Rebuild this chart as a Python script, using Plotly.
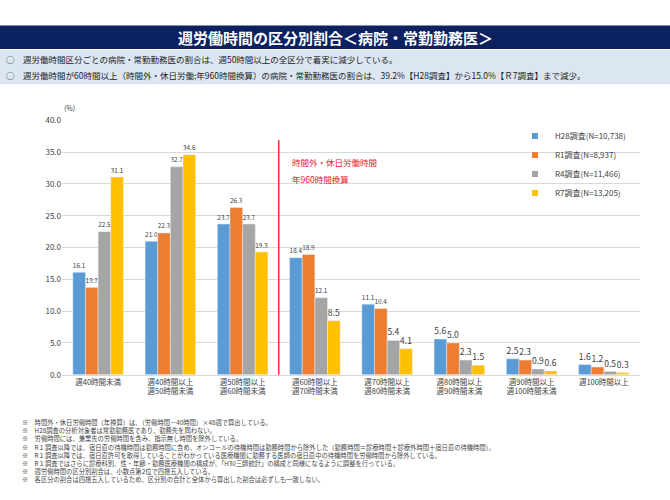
import plotly.graph_objects as go

categories = ["週40時間未満", "週40時間以上<br>週50時間未満", "週50時間以上<br>週60時間未満", "週60時間以上<br>週70時間未満",
              "週70時間以上<br>週80時間未満", "週80時間以上<br>週90時間未満", "週90時間以上<br>週100時間未満", "週100時間以上"]
series_names = ["H28調査(N=10,738)", "R1調査(N=8,937)", "R4調査(N=11,466)", "R7調査(N=13,205)"]
h28 = [16.1, 21.0, 23.7, 18.4, 11.1, 5.6, 2.5, 1.6]
r1 = [13.7, 22.3, 26.3, 18.9, 10.4, 5.0, 2.3, 1.2]
r4 = [22.5, 32.7, 23.7, 12.1, 5.4, 2.3, 0.9, 0.5]
r7 = [31.1, 34.6, 19.3, 8.5, 4.1, 1.5, 0.6, 0.3]
colors = ["#5B9BD5", "#ED7D31", "#A5A5A5", "#FFC000"]
footnotes = [
    "※　時間外・休日労働時間（年換算）は、（労働時間－40時間）×48週で算出している。",
    "※　H28調査の分析対象者は常勤勤務医であり、勤務先を問わない。",
    "※　労働時間には、兼業先の労働時間を含み、指示無し時間を除外している。",
    "※　R１調査以降では、宿日直の待機時間は勤務時間に含め、オンコールの待機時間は勤務時間から除外した（勤務時間＝診療時間＋診療外時間＋宿日直の待機時間）。",
    "※　R１調査以降では、宿日直許可を取得していることがわかっている医療機関に勤務する医師の宿日直中の待機時間を労働時間から除外している。",
    "※　R１調査ではさらに診療科別、性・年齢・勤務医療機関の構成が、「H30三師統計」の構成と同様になるように調整を行っている。",
    "※　週労働時間の区分別割合は、小数点第2位で四捨五入している。",
    "※　各区分の割合は四捨五入しているため、区分別の合計と全体から算出した割合は必ずしも一致しない。",
]

W, H = 670, 500
def py(y):
    return 1 - y / H
def px(x):
    return x / W

FONT = "Noto Sans CJK JP"
fig = go.Figure()
for name, vals, c in zip(series_names, [h28, r1, r4, r7], colors):
    fig.add_trace(go.Bar(x=categories, y=vals, name=name, marker_color=c, showlegend=False,
                         text=[f"{v:.1f}" for v in vals], textposition="outside",
                         textfont=dict(size=8.5, color="#404040"), cliponaxis=False))
for name, c in zip(series_names, colors):
    fig.add_trace(go.Scatter(x=[None], y=[None], mode="markers", name=name,
                             marker=dict(symbol="square", size=6, color=c)))

fig.update_layout(
    width=W, height=H, margin=dict(l=0, r=0, t=0, b=0),
    paper_bgcolor="white", plot_bgcolor="white",
    font=dict(family=FONT, color="#404040"),
    barmode="group", bargap=0.3, bargroupgap=0.0,
    xaxis=dict(domain=[px(62), px(640)], showline=True, linecolor="#D9D9D9", tickfont=dict(size=7.5)),
    yaxis=dict(domain=[py(377), py(117)], range=[0, 40], dtick=5, tickformat=".1f",
               gridcolor="#D9D9D9", tickfont=dict(size=8), zeroline=False),
    legend=dict(x=px(515), y=py(118), xanchor="left", yanchor="top", font=dict(size=8),
                bgcolor="rgba(255,255,255,0)", itemwidth=30, tracegroupgap=6),
    showlegend=True,
)
fig.add_shape(type="rect", xref="paper", yref="paper", x0=0, x1=1, y0=py(44), y1=py(20),
              fillcolor="#0B2160", line_width=0, layer="below")
fig.add_shape(type="rect", xref="paper", yref="paper", x0=0, x1=1, y0=py(80), y1=py(45),
              fillcolor="#DCE6F2", line_width=0, layer="below")
fig.add_annotation(x=0.5, y=py(32), xref="paper", yref="paper", showarrow=False, yanchor="middle",
                   text="<b>週労働時間の区分別割合＜病院・常勤勤務医＞</b>", font=dict(size=15, color="white"))
fig.add_annotation(x=px(4), y=py(54), xref="paper", yref="paper", showarrow=False, xanchor="left", yanchor="middle",
                   text="○　週労働時間区分ごとの病院・常勤勤務医の割合は、週50時間以上の全区分で着実に減少している。",
                   font=dict(size=8.5, color="#222"))
fig.add_annotation(x=px(4), y=py(71), xref="paper", yref="paper", showarrow=False, xanchor="left", yanchor="middle",
                   text="○　週労働時間が60時間以上（時間外・休日労働;年960時間換算）の病院・常勤勤務医の割合は、39.2%【H28調査】から15.0%【Ｒ7調査】まで減少。",
                   font=dict(size=8.5, color="#222"))
fig.add_annotation(x=px(62), y=py(104), xref="paper", yref="paper", showarrow=False, yanchor="middle",
                   text="(%)", font=dict(size=7))
fig.add_shape(type="line", xref="x", yref="paper", x0=2.5, x1=2.5, y0=py(377), y1=py(137),
              line=dict(color="#FF3333", width=1.5))
fig.add_annotation(x=px(290), y=py(160), xref="paper", yref="paper", showarrow=False, xanchor="left", yanchor="middle",
                   text="時間外・休日労働時間", font=dict(size=8.5, color="#E8202A"))
fig.add_annotation(x=px(290), y=py(177), xref="paper", yref="paper", showarrow=False, xanchor="left", yanchor="middle",
                   text="年960時間換算", font=dict(size=8.5, color="#E8202A"))
fig.add_annotation(x=px(20), y=py(419), xref="paper", yref="paper", showarrow=False,
                   xanchor="left", yanchor="top", align="left", text="<br>".join(footnotes),
                   font=dict(size=6.3, color="#444"))

fig.write_html("out.html", config={"displayModeBar": False},
               post_script="document.body.style.margin='0';document.body.style.overflow='hidden';")
